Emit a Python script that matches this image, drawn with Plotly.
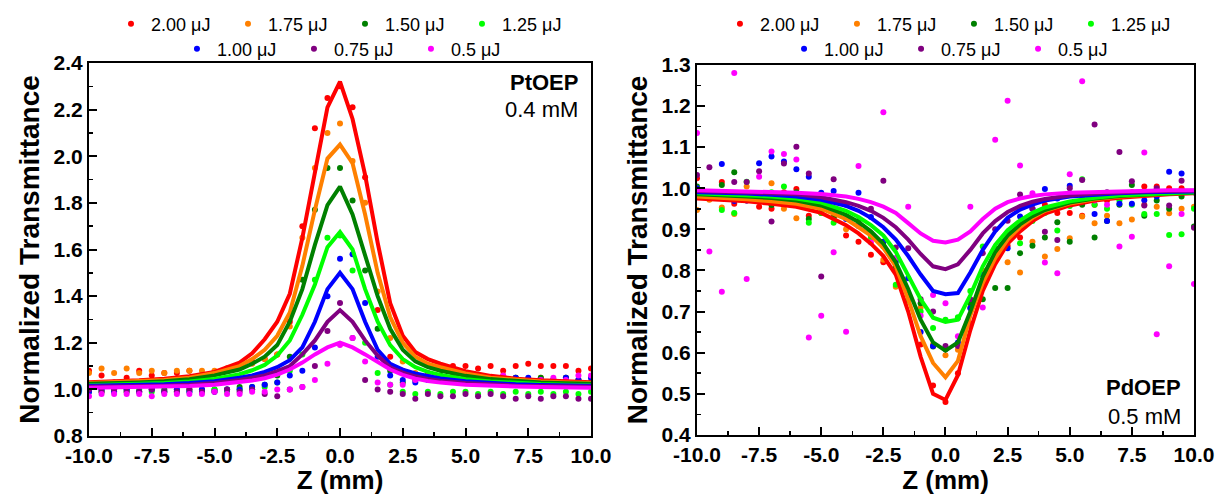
import plotly.graph_objects as go

# ---------------- data ----------------
series_names = ["2.00 μJ", "1.75 μJ", "1.50 μJ", "1.25 μJ", "1.00 μJ", "0.75 μJ", "0.5 μJ"]
series_colors = ["#FF0000", "#FF8000", "#008000", "#00FF00", "#0000FF", "#800080", "#FF00FF"]

z_dots = [-10, -9.5, -9, -8.5, -8, -7.5, -7, -6.5, -6, -5.5, -5, -4.5, -4, -3.5, -3, -2.5, -2, -1.5, -1, -0.5,
          0, 0.5, 1, 1.5, 2, 2.5, 3, 3.5, 4, 4.5, 5, 5.5, 6, 6.5, 7, 7.5, 8, 8.5, 9, 9.5, 10]
z_fit = [-10, -9, -8, -7, -6, -5, -4, -3.5, -3, -2.5, -2, -1.5, -1, -0.5, 0, 0.5, 1, 1.5, 2, 2.5, 3, 3.5, 4,
         5, 6, 7, 8, 9, 10]

# PtOEP (0.4 mM) measured points
pt_red = [1.08, 1.06, 1.03, 1.05, 1.08, 1.06, 1.07, 1.07, 1.08, 1.06, 1.07, 1.09, 1.10, 1.12, 1.13, 1.15, 1.29, 1.70, 2.12, 2.25,
          2.30, 2.21, 1.91, 1.34, 1.14, 1.08, 1.06, 1.07, 1.09, 1.10, 1.10, 1.09, 1.10, 1.08, 1.10, 1.11, 1.10, 1.10, 1.10, 1.08, 1.09]
pt_orange = [1.07, 1.09, 1.07, 1.09, 1.07, 1.08, 1.07, 1.08, 1.08, 1.08, 1.08, 1.09, 1.10, 1.11, 1.13, 1.15, 1.27, 1.65, 1.95, 2.10,
             2.14, 1.98, 1.80, 1.42, 1.22, 1.12, 1.07, 1.06, 1.05, 1.06, 1.05, 1.06, 1.05, 1.06, 1.05, 1.04, 1.05, 1.04, 1.05, 1.04, 1.05]
pt_dgreen = [1.00, 0.99, 1.00, 1.00, 0.99, 1.00, 1.00, 0.99, 1.00, 1.00, 1.00, 1.00, 1.01, 1.01, 1.02, 1.06, 1.14, 1.47, 1.77, 1.95,
             1.95, 1.81, 1.51, 1.26, 1.08, 1.03, 1.04, 1.05, 1.06, 1.05, 1.05, 1.06, 1.05, 1.05, 1.05, 1.04, 1.05, 1.04, 1.05, 1.04, 1.03]
pt_lgreen = [0.99, 1.00, 0.99, 0.99, 1.00, 0.99, 0.99, 1.00, 0.99, 0.99, 1.00, 0.99, 1.00, 1.00, 1.01, 1.03, 1.08, 1.15, 1.47, 1.65,
             1.66, 1.51, 1.20, 1.07, 1.02, 0.99, 0.98, 0.99, 0.98, 0.99, 0.99, 0.98, 0.99, 0.98, 0.99, 0.98, 0.99, 0.98, 0.99, 0.98, 0.99]
pt_blue = [0.99, 1.00, 0.99, 1.00, 0.99, 1.00, 0.99, 1.00, 0.99, 1.00, 0.99, 1.00, 1.00, 1.01, 1.02, 1.03, 1.06, 1.08, 1.18, 1.40,
           1.56, 1.58, 1.37, 1.14, 1.06, 1.04, 1.03, 1.04, 1.05, 1.04, 1.05, 1.04, 1.04, 1.04, 1.05, 1.05, 1.04, 1.04, 1.05, 1.04, 1.05]
pt_purple = [1.00, 0.99, 1.00, 0.99, 0.99, 1.00, 0.99, 0.99, 1.00, 0.99, 0.99, 1.00, 0.99, 1.00, 0.98, 0.97, 1.00, 1.01, 1.10, 1.25,
             1.37, 1.22, 1.04, 1.00, 0.99, 0.98, 0.96, 0.98, 0.97, 0.97, 0.98, 0.97, 0.98, 0.97, 0.96, 0.97, 0.96, 0.97, 0.97, 0.96, 0.96]
pt_magenta = [0.97, 0.98, 0.98, 0.98, 0.98, 0.97, 0.98, 0.98, 0.98, 0.98, 0.99, 0.98, 0.98, 0.99, 0.99, 1.00, 1.00, 1.01, 1.04, 1.11,
              1.19, 1.22, 1.12, 1.03, 1.02, 1.02, 1.04, 1.05, 1.04, 1.04, 1.05, 1.04, 1.05, 1.06, 1.04, 1.03, 1.04, 1.05, 1.04, 1.06, 1.06]

# PtOEP fitted curves
pt_fit_red = [1.031, 1.034, 1.039, 1.046, 1.056, 1.075, 1.115, 1.155, 1.215, 1.29, 1.41, 1.65, 1.93, 2.21, 2.32,
              2.16, 1.92, 1.63, 1.37, 1.23, 1.16, 1.13, 1.11, 1.078, 1.058, 1.046, 1.039, 1.034, 1.031]
pt_fit_orange = [1.027, 1.03, 1.034, 1.04, 1.05, 1.07, 1.10, 1.13, 1.17, 1.23, 1.33, 1.53, 1.77, 1.99, 2.05,
                 1.97, 1.75, 1.50, 1.31, 1.20, 1.14, 1.11, 1.095, 1.068, 1.05, 1.04, 1.034, 1.03, 1.027]
pt_fit_dgreen = [1.024, 1.026, 1.03, 1.035, 1.044, 1.06, 1.085, 1.11, 1.14, 1.19, 1.29, 1.43, 1.62, 1.79, 1.87,
                 1.75, 1.58, 1.40, 1.26, 1.17, 1.12, 1.095, 1.08, 1.058, 1.044, 1.035, 1.03, 1.026, 1.024]
pt_fit_lgreen = [1.018, 1.02, 1.023, 1.027, 1.034, 1.045, 1.065, 1.082, 1.105, 1.145, 1.21, 1.32, 1.45, 1.61, 1.675,
                 1.60, 1.43, 1.29, 1.19, 1.13, 1.095, 1.075, 1.062, 1.044, 1.034, 1.027, 1.023, 1.02, 1.018]
pt_fit_blue = [1.016, 1.017, 1.019, 1.022, 1.027, 1.035, 1.05, 1.06, 1.075, 1.095, 1.125, 1.18, 1.29, 1.43, 1.50,
               1.43, 1.29, 1.17, 1.11, 1.085, 1.068, 1.056, 1.047, 1.035, 1.027, 1.022, 1.019, 1.017, 1.016]
pt_fit_purple = [1.011, 1.012, 1.014, 1.016, 1.02, 1.027, 1.04, 1.048, 1.06, 1.078, 1.10, 1.15, 1.21, 1.29, 1.34,
                 1.29, 1.21, 1.145, 1.095, 1.072, 1.056, 1.045, 1.037, 1.027, 1.02, 1.016, 1.014, 1.012, 1.011]
pt_fit_magenta = [1.007, 1.008, 1.01, 1.012, 1.015, 1.02, 1.03, 1.038, 1.048, 1.063, 1.085, 1.115, 1.15, 1.18, 1.20,
                  1.18, 1.15, 1.115, 1.085, 1.062, 1.046, 1.036, 1.029, 1.02, 1.015, 1.012, 1.01, 1.008, 1.007]

# PdOEP (0.5 mM) measured points
pd_red = [1.024, 0.99, 1.015, 0.962, 0.97, 0.955, 0.95, 0.99, 0.998, 0.933, 0.94, 0.93, 0.885, 0.87, 0.838, 0.82, 0.80, 0.74, 0.62, 0.52,
          0.48, 0.55, 0.67, 0.76, 0.83, 0.86, 0.88, 0.93, 0.96, 0.94, 0.94, 0.933, 0.96, 0.97, 0.98, 0.99, 1.004, 1.004, 1.0, 1.0, 0.99]
pd_orange = [0.947, 0.972, 0.953, 0.937, 1.004, 0.97, 1.012, 0.95, 0.927, 0.96, 0.95, 0.93, 0.90, 0.91, 0.88, 0.826, 0.76, 0.74, 0.71, 0.62,
             0.594, 0.607, 0.71, 0.80, 0.85, 0.82, 0.795, 0.87, 0.834, 0.852, 0.878, 0.931, 0.915, 0.933, 0.915, 0.924, 0.96, 0.955, 0.939, 0.95, 0.955]
pd_dgreen = [1.004, 0.99, 1.008, 1.039, 0.981, 0.97, 0.959, 0.98, 0.99, 0.925, 0.95, 0.929, 0.93, 0.92, 0.89, 0.87, 0.81, 0.74, 0.72, 0.615,
             0.61, 0.684, 0.72, 0.73, 0.757, 0.757, 0.842, 0.86, 0.88, 0.917, 0.87, 0.96, 0.88, 0.92, 0.96, 1.008, 0.933, 0.97, 0.95, 0.98, 0.907]
pd_lgreen = [1.0, 0.98, 0.947, 0.94, 1.016, 0.97, 0.99, 1.004, 0.98, 0.916, 0.94, 0.916, 0.93, 0.91, 0.882, 0.858, 0.765, 0.726, 0.70, 0.66,
             0.68, 0.686, 0.75, 0.858, 0.854, 0.87, 0.866, 0.92, 0.94, 0.897, 0.957, 1.022, 0.96, 0.95, 0.97, 0.96, 0.937, 0.937, 0.886, 0.888, 0.95]
pd_blue = [1.0, 0.99, 1.059, 0.969, 0.97, 1.061, 1.077, 1.065, 1.046, 1.028, 0.989, 0.993, 0.925, 0.989, 0.93, 0.87, 0.821, 0.781, 0.65, 0.616,
           0.608, 0.625, 0.708, 0.789, 0.842, 0.854, 0.931, 0.95, 0.998, 0.975, 1.006, 0.98, 0.937, 0.92, 0.962, 0.962, 0.971, 0.98, 1.04, 1.036, 0.99]
pd_purple = [1.032, 1.051, 0.99, 1.015, 1.015, 1.041, 0.919, 1.06, 1.101, 1.036, 0.785, 1.022, 0.96, 0.908, 0.95, 1.018, 0.856, 0.854, 0.73, 0.70,
             0.616, 0.616, 0.73, 0.842, 0.90, 0.921, 0.985, 0.95, 0.894, 0.874, 1.0, 1.02, 1.155, 0.99, 1.088, 1.017, 0.958, 1.0, 0.958, 1.018, 0.904]
pd_magenta = [1.134, 0.846, 0.748, 1.28, 0.779, 1.028, 1.089, 1.083, 1.07, 0.637, 0.69, 0.844, 0.651, 1.054, 0.868, 1.185, 0.83, 0.955, 0.69, 0.74,
              0.72, 0.64, 0.955, 0.71, 1.118, 1.213, 1.055, 0.988, 0.819, 0.793, 1.034, 1.26, 0.97, 0.96, 0.858, 0.882, 1.087, 0.645, 0.81, 0.937, 0.767]

# PdOEP fitted curves
pd_fit_red = [0.975, 0.972, 0.968, 0.962, 0.955, 0.94, 0.91, 0.89, 0.865, 0.835, 0.79, 0.70, 0.59, 0.50, 0.485,
              0.545, 0.655, 0.75, 0.815, 0.865, 0.895, 0.92, 0.938, 0.958, 0.97, 0.977, 0.982, 0.985, 0.988]
pd_fit_orange = [0.98, 0.977, 0.973, 0.968, 0.962, 0.95, 0.925, 0.905, 0.885, 0.855, 0.81, 0.73, 0.64, 0.575, 0.54,
                 0.58, 0.69, 0.77, 0.83, 0.875, 0.905, 0.928, 0.945, 0.963, 0.973, 0.98, 0.984, 0.987, 0.989]
pd_fit_dgreen = [0.985, 0.983, 0.98, 0.976, 0.97, 0.958, 0.935, 0.918, 0.895, 0.865, 0.82, 0.755, 0.68, 0.625, 0.605,
                 0.625, 0.70, 0.785, 0.845, 0.885, 0.912, 0.932, 0.947, 0.965, 0.975, 0.981, 0.985, 0.987, 0.989]
pd_fit_lgreen = [0.988, 0.986, 0.984, 0.98, 0.975, 0.965, 0.945, 0.93, 0.91, 0.885, 0.845, 0.79, 0.73, 0.685, 0.675,
                 0.68, 0.74, 0.81, 0.862, 0.898, 0.922, 0.94, 0.953, 0.968, 0.977, 0.983, 0.986, 0.988, 0.99]
pd_fit_blue = [0.99, 0.989, 0.987, 0.984, 0.98, 0.972, 0.957, 0.945, 0.928, 0.905, 0.875, 0.835, 0.79, 0.75, 0.742,
               0.745, 0.795, 0.85, 0.895, 0.928, 0.948, 0.96, 0.97, 0.98, 0.985, 0.988, 0.99, 0.991, 0.992]
pd_fit_purple = [0.993, 0.992, 0.99, 0.988, 0.985, 0.978, 0.966, 0.957, 0.945, 0.928, 0.905, 0.875, 0.84, 0.81, 0.803,
                 0.815, 0.85, 0.89, 0.92, 0.942, 0.957, 0.967, 0.974, 0.982, 0.987, 0.99, 0.992, 0.993, 0.994]
pd_fit_magenta = [0.995, 0.994, 0.993, 0.991, 0.989, 0.986, 0.98, 0.974, 0.966, 0.955, 0.94, 0.915, 0.89, 0.872, 0.868,
                  0.875, 0.895, 0.925, 0.95, 0.966, 0.975, 0.981, 0.985, 0.989, 0.991, 0.993, 0.994, 0.995, 0.995]

x_tick_vals = [-10, -7.5, -5, -2.5, 0, 2.5, 5, 7.5, 10]
x_tick_text = ["-10.0", "-7.5", "-5.0", "-2.5", "0.0", "2.5", "5.0", "7.5", "10.0"]
pt_y_tick_vals = [0.8, 1.0, 1.2, 1.4, 1.6, 1.8, 2.0, 2.2, 2.4]
pt_y_tick_text = ["0.8", "1.0", "1.2", "1.4", "1.6", "1.8", "2.0", "2.2", "2.4"]
pd_y_tick_vals = [0.4, 0.5, 0.6, 0.7, 0.8, 0.9, 1.0, 1.1, 1.2, 1.3]
pd_y_tick_text = ["0.4", "0.5", "0.6", "0.7", "0.8", "0.9", "1.0", "1.1", "1.2", "1.3"]

pt_dots = [pt_red, pt_orange, pt_dgreen, pt_lgreen, pt_blue, pt_purple, pt_magenta]
pt_fits = [pt_fit_red, pt_fit_orange, pt_fit_dgreen, pt_fit_lgreen, pt_fit_blue, pt_fit_purple, pt_fit_magenta]
pd_dots = [pd_red, pd_orange, pd_dgreen, pd_lgreen, pd_blue, pd_purple, pd_magenta]
pd_fits = [pd_fit_red, pd_fit_orange, pd_fit_dgreen, pd_fit_lgreen, pd_fit_blue, pd_fit_purple, pd_fit_magenta]

# ---------------- figure ----------------
FONT = "Liberation Sans, Arial, sans-serif"
fig = go.Figure()

def add_panel(dots, fits, xa, ya, legends):
    for i, (name, col) in enumerate(zip(series_names, series_colors)):
        fig.add_trace(go.Scatter(
            x=z_dots, y=dots[i], mode="markers", name=name,
            marker=dict(color=col, size=6),
            xaxis=xa, yaxis=ya, legend=legends[0] if i < 4 else legends[1],
            showlegend=True))
    for i, col in enumerate(series_colors):
        fig.add_trace(go.Scatter(
            x=z_fit, y=fits[i], mode="lines", line=dict(color=col, width=4),
            xaxis=xa, yaxis=ya, showlegend=False, hoverinfo="skip"))

add_panel(pt_dots, pt_fits, "x", "y", ["legend", "legend2"])
add_panel(pd_dots, pd_fits, "x2", "y2", ["legend3", "legend4"])

tickfont = dict(family=FONT, size=21, color="black", weight="bold")
xtitlefont = dict(family=FONT, size=26, color="black", weight="bold")
ytitlefont = dict(family=FONT, size=28, color="black", weight="bold")

def xaxis_cfg(domain, anchor):
    return dict(domain=domain, anchor=anchor, range=[-10, 10],
                tickmode="array", tickvals=x_tick_vals, ticktext=x_tick_text,
                ticks="inside", ticklen=8, tickwidth=2, tickcolor="black",
                minor=dict(ticks="inside", ticklen=4, tickwidth=1.5, tickcolor="black",
                           tickmode="linear", tick0=-10, dtick=1.25, showgrid=False),
                showline=True, linewidth=2, linecolor="black", mirror=True,
                showgrid=False, zeroline=False, tickfont=tickfont,
                title=dict(text="Z (mm)", font=xtitlefont, standoff=4))

def yaxis_cfg(domain, anchor, rng, tv, tt, minor_dtick):
    return dict(domain=domain, anchor=anchor, range=rng,
                tickmode="array", tickvals=tv, ticktext=tt,
                ticks="inside", ticklen=8, tickwidth=2, tickcolor="black",
                minor=dict(ticks="inside", ticklen=4, tickwidth=1.5, tickcolor="black",
                           tickmode="linear", tick0=rng[0], dtick=minor_dtick, showgrid=False),
                showline=True, linewidth=2, linecolor="black", mirror=True,
                showgrid=False, zeroline=False, tickfont=tickfont,
                title=dict(text="Normalized Transmittance", font=ytitlefont, standoff=6))

legfont = dict(family=FONT, size=18, color="black")

def legend_cfg(x, y):
    return dict(orientation="h", x=x, xanchor="left", y=y, yanchor="middle",
                font=legfont, entrywidth=72, entrywidthmode="pixels",
                bgcolor="rgba(0,0,0,0)", borderwidth=0, itemclick=False)

annfont = dict(family=FONT, size=22, color="black")

fig.update_layout(
    width=1218, height=495,
    margin=dict(l=89, r=24, t=63, b=59, autoexpand=False),
    paper_bgcolor="white", plot_bgcolor="white",
    showlegend=True,
    xaxis=xaxis_cfg([0, 0.4543], "y"),
    yaxis=yaxis_cfg([0, 1], "x", [0.8, 2.4], pt_y_tick_vals, pt_y_tick_text, 0.1),
    xaxis2=xaxis_cfg([0.5502, 1], "y2"),
    yaxis2=yaxis_cfg([0.003, 0.995], "x2", [0.4, 1.3], pd_y_tick_vals, pd_y_tick_text, 0.05),
    legend=legend_cfg(0.0199, 1.1046),
    legend2=legend_cfg(0.0796, 1.0375),
    legend3=legend_cfg(0.571, 1.1046),
    legend4=legend_cfg(0.629, 1.0375),
    annotations=[
        dict(text="<b>PtOEP</b>", xref="x domain", yref="y domain", x=0.978, y=0.949,
             xanchor="right", yanchor="middle", showarrow=False, font=annfont),
        dict(text="0.4 mM", xref="x domain", yref="y domain", x=0.978, y=0.874,
             xanchor="right", yanchor="middle", showarrow=False, font=annfont),
        dict(text="<b>PdOEP</b>", xref="x2 domain", yref="y2 domain", x=0.978, y=0.127,
             xanchor="right", yanchor="middle", showarrow=False, font=annfont),
        dict(text="0.5 mM", xref="x2 domain", yref="y2 domain", x=0.978, y=0.049,
             xanchor="right", yanchor="middle", showarrow=False, font=annfont),
    ],
)

fig.write_html("out.html",
               config={"displayModeBar": False, "staticPlot": True},
               post_script="document.body.style.margin='0';document.body.style.padding='0';")
